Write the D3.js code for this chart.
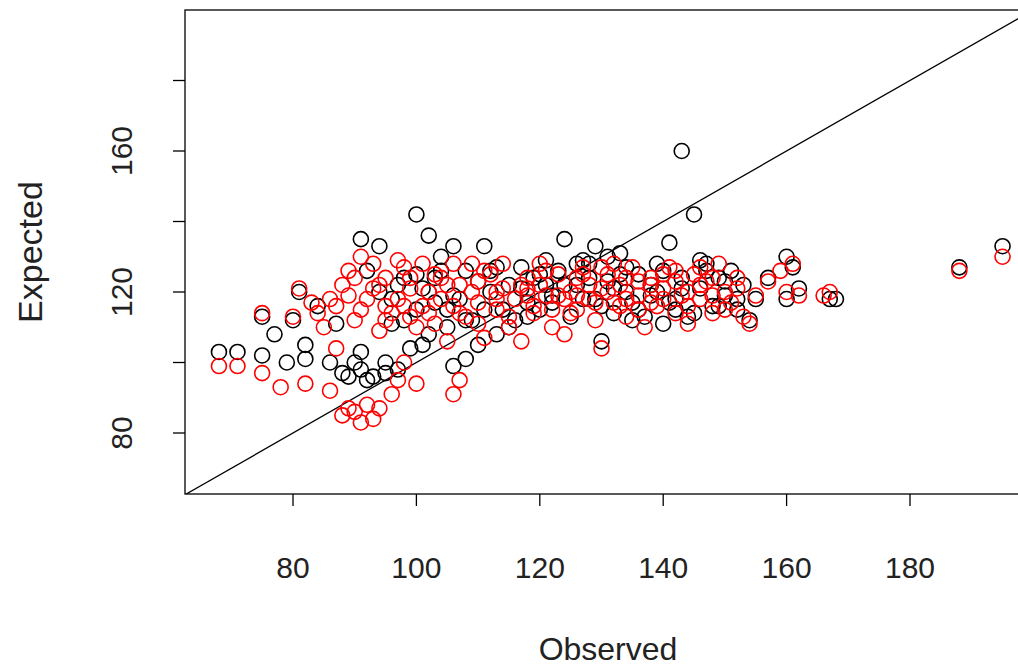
<!DOCTYPE html>
<html>
<head>
<meta charset="utf-8">
<script src="https://cdn.jsdelivr.net/npm/d3@7"></script>
<style>
  body { margin: 0; background: #fff; }
  text { font-family: "Liberation Sans", Arial, sans-serif; fill: #222; }
</style>
</head>
<body>
<svg id="chart"></svg>
<script>
// observed vs expected, series 1 (black)
const blackObs = [68,71,75,75,77,79,80,81,82,82,84,86,87,88,89,90,91,91,91,92,93,94,95,95,97,99,100,100,101,102,103,104,105,106,106,107,108,109,110,111,112,113,114,115,116,118,119,120,121,122,123,124,125,126,127,128,129,130,131,132,133,134,135,136,137,138,139,140,141,142,143,143,144,145,146,147,148,149,150,151,152,153,154,155,157,160,160,161,162,167,168,188,195,96,98,97,103,105,108,112,117,121,127,129,131,133,135,139,142,146,149,
  92,94,96,98,100,101,102,104,106,108,110,111,113,115,117,118,120,122,124,126,128,130,132,134,136,138,140,141,143,145,147,150,152];
const blackExp = [103,103,102,113,108,100,112,120,101,105,116,100,111,97,96,100,135,98,103,95,96,133,97,100,98,104,142,125,105,136,117,130,115,133,99,118,101,112,105,133,120,108,115,122,112,117,124,115,129,119,126,135,113,122,118,128,133,106,123,114,131,120,117,125,113,122,128,111,134,118,160,124,113,142,121,128,116,124,119,126,115,122,112,118,124,130,118,127,121,118,118,127,133,118,112,122,124,110,126,126,127,122,129,118,130,125,112,120,115,129,116,
  126,120,111,124,115,121,108,126,119,112,123,115,127,110,121,113,125,117,122,128,124,116,121,127,115,119,126,117,121,114,126,123,118];
// series 2 (red)
const redObs = [68,71,75,75,78,80,81,82,83,85,86,87,88,89,90,91,92,93,94,96,97,98,100,88,89,90,91,92,93,94,95,96,97,98,99,100,101,102,103,104,105,106,107,107,108,109,110,111,112,113,114,115,116,117,118,119,120,121,122,123,124,125,126,127,128,129,130,131,132,133,134,135,136,137,138,139,140,141,142,143,144,145,146,147,148,149,150,151,152,153,154,155,157,159,160,161,162,166,167,188,195,84,86,95,99,102,104,106,110,113,118,120,124,126,128,131,133,136,140,144,148,
  87,89,91,93,95,97,99,101,103,105,107,109,111,113,115,117,119,121,123,125,127,129,130,132,134,136,138,140,142,144,146,148,150,152,
  90,94,98,102,106,110,114,118,122,126,130,134,138,142,146];
const redExp = [99,99,97,114,93,113,121,94,117,110,92,104,85,87,86,83,88,84,87,91,95,100,94,122,126,112,130,118,128,109,124,114,129,116,121,110,128,114,125,118,106,91,95,122,113,128,117,107,125,115,121,110,118,106,124,114,128,119,110,125,108,120,115,127,122,112,104,125,117,122,113,127,119,110,124,116,121,127,114,119,111,125,118,123,114,128,120,117,124,113,111,119,123,126,120,128,119,119,120,126,130,114,118,116,113,120,124,116,123,120,119,122,118,124,118,120,116,123,125,120,124,
  116,119,115,121,112,118,124,116,111,122,114,120,126,118,113,122,116,126,119,114,125,117,121,128,118,115,122,118,126,116,122,119,115,121,
  124,122,127,120,128,111,128,121,115,119,127,124,117,123,127];
const xTicks = [80,100,120,140,160,180];
const yTicks = [80,100,120,140,160,180];
const yLabels = [80,120,160];

const W = 1018, H = 671;
const L = 185, T = 10, R = 1030, B = 494;
const svg = d3.select('#chart').attr('width', W).attr('height', H);

const x = d3.scaleLinear().domain([80, 180]).range([293, 910]);
const y = d3.scaleLinear().domain([80, 160]).range([433, 151]);

svg.append('clipPath').attr('id', 'plot')
  .append('rect').attr('x', L).attr('y', T).attr('width', R - L).attr('height', B - T);

const g = svg.append('g').attr('clip-path', 'url(#plot)');

g.append('line')
  .attr('x1', x(40)).attr('y1', y(40))
  .attr('x2', x(240)).attr('y2', y(240))
  .attr('stroke', '#000').attr('stroke-width', 1.3);

function pts(xs, ys, col) {
  g.selectAll(null).data(xs.map((v, i) => [v, ys[i]])).enter()
    .append('circle')
    .attr('cx', d => x(d[0])).attr('cy', d => y(d[1]))
    .attr('r', 7.5).attr('fill', 'none')
    .attr('stroke', col).attr('stroke-width', 1.6);
}
pts(blackObs, blackExp, '#000');
pts(redObs, redExp, '#ff0000');

svg.append('rect').attr('x', L).attr('y', T).attr('width', R - L).attr('height', B - T)
  .attr('fill', 'none').attr('stroke', '#000').attr('stroke-width', 1.3);

// x axis
svg.selectAll('.xt').data(xTicks).enter().append('line')
  .attr('x1', d => x(d)).attr('x2', d => x(d))
  .attr('y1', B).attr('y2', B + 12).attr('stroke', '#000').attr('stroke-width', 1.3);
svg.selectAll('.xl').data(xTicks).enter().append('text')
  .attr('x', d => x(d)).attr('y', 578).attr('text-anchor', 'middle')
  .attr('font-size', 30).text(d => d);

// y axis
svg.selectAll('.yt').data(yTicks).enter().append('line')
  .attr('y1', d => y(d)).attr('y2', d => y(d))
  .attr('x1', L).attr('x2', L - 12).attr('stroke', '#000').attr('stroke-width', 1.3);
svg.selectAll('.yl').data(yLabels).enter().append('text')
  .attr('transform', d => `translate(132,${y(d)}) rotate(-90)`)
  .attr('text-anchor', 'middle').attr('font-size', 30).text(d => d);

svg.append('text').attr('x', 608).attr('y', 660).attr('text-anchor', 'middle')
  .attr('font-size', 32).text('Observed');
svg.append('text').attr('transform', 'translate(42,252) rotate(-90)')
  .attr('text-anchor', 'middle').attr('font-size', 34).text('Expected');
</script>
</body>
</html>
